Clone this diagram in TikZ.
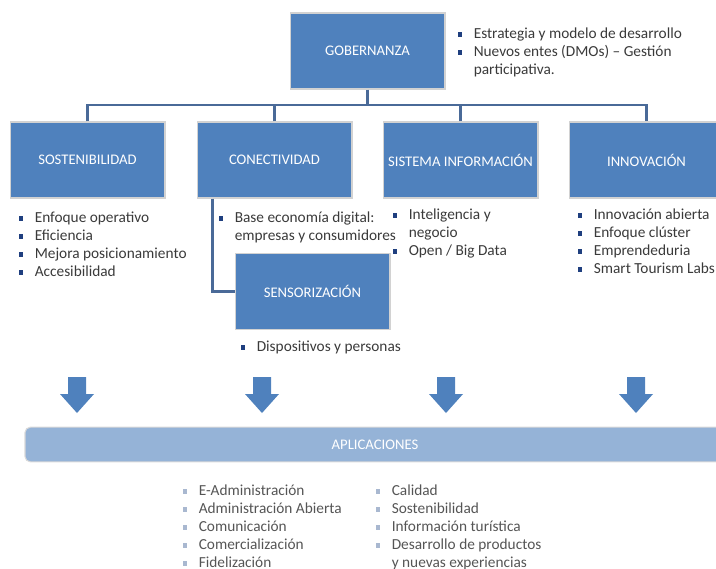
\documentclass[tikz,border=0pt]{standalone}
\usepackage{fontspec}
\setmainfont{Carlito}

\definecolor{azulcaja}{HTML}{4F81BD}
\definecolor{azullinea}{HTML}{4A6A98}
\definecolor{azulbarra}{HTML}{95B3D7}
\definecolor{vinazul}{HTML}{1F3F7F}
\definecolor{vinclara}{HTML}{A9B8D0}
\definecolor{textogris}{HTML}{3A3A3A}
\definecolor{textoclaro}{HTML}{555555}

\tikzset{
  caja/.style={draw=gray!35, line width=1pt, fill=azulcaja, text=white,
    minimum width=116pt, minimum height=57pt, inner sep=1pt,
    font=\fontsize{11}{13}\selectfont},
  linea/.style={draw=azullinea, line width=1.6pt},
  lista/.style={anchor=base west, inner sep=0pt, text=textogris,
    font=\fontsize{11.5}{13.5}\selectfont},
  barra/.style={draw=gray!30, line width=0.8pt, fill=azulbarra, text=white,
    rounded corners=4pt, minimum width=525pt, minimum height=26pt,
    font=\fontsize{11}{13}\selectfont}
}

% viñetas cuadradas
\newcommand{\vin}{\textcolor{vinazul}{\rule[0.9pt]{3.5pt}{3.5pt}}}
\newcommand{\vinc}{\textcolor{vinclara}{\rule[0.9pt]{3.5pt}{3.5pt}}}
\newcommand{\listado}[1]{\begin{tabular}[t]{@{}l@{\hspace{8.5pt}}l@{}}#1\end{tabular}}

\begin{document}
\begin{tikzpicture}[x=0.75pt, y=-0.75pt]
  \useasboundingbox (0,0) rectangle (716,568);

  % Cajas principales
  \node[caja] (gob) at (367.5,51) {GOBERNANZA};
  \node[caja] (sost) at (87.5,160) {SOSTENIBILIDAD};
  \node[caja] (con) at (274.5,160) {CONECTIVIDAD};
  \node[caja] (sis) at (460.5,160) {SISTEMA INFORMACIÓN};
  \node[caja] (inn) at (646.5,160) {INNOVACIÓN};
  \node[caja] (sens) at (312.5,291.5) {SENSORIZACIÓN};

  % Conexiones
  \coordinate (bus) at (367.5,105);
  \draw[linea] (gob.south) -- (bus);
  \draw[linea] (sost.north) |- (bus) -| (inn.north);
  \draw[linea] (con.north) -- (con.north |- bus);
  \draw[linea] (sis.north) -- (sis.north |- bus);
  \draw[linea] ([xshift=12pt]con.south west) |- (sens.west);

  % Listas de cada eje
  \node[lista] (lgob) at (457.5,38) {\listado{\vin & Estrategia y modelo de desarrollo\\
    \vin & Nuevos entes (DMOs) -- Gestión\\ & participativa.}};
  \node[lista] (lsost) at (18.5,222) {\listado{\vin & Enfoque operativo\\ \vin & Eficiencia\\
    \vin & Mejora posicionamiento\\ \vin & Accesibilidad}};
  \node[lista] (lcon) at (218.5,222) {\listado{\vin & Base economía digital:\\
    & empresas y consumidores}};
  \node[lista] (lsis) at (392.5,219) {\listado{\vin & Inteligencia y\\ & negocio\\
    \vin & Open / Big Data}};
  \node[lista] (linn) at (577.5,219) {\listado{\vin & Innovación abierta\\ \vin & Enfoque clúster\\
    \vin & Emprendeduria\\ \vin & Smart Tourism Labs}};
  \node[lista] (lsens) at (240.5,351) {\listado{\vin & Dispositivos y personas}};

  % Flechas hacia las aplicaciones
  \foreach \x in {77,262,446,636}
    \fill[azulcaja] (\x-9,377) -- (\x+9,377) -- (\x+9,394) -- (\x+17,394)
      -- (\x,413) -- (\x-17,394) -- (\x-9,394) -- cycle;

  \node[barra] (apl) at (375,444.5) {APLICACIONES};

  % Aplicaciones
  \node[lista, text=textoclaro] (lapl1) at (182.5,495) {\listado{\vinc & E-Administración\\
    \vinc & Administración Abierta\\ \vinc & Comunicación\\ \vinc & Comercialización\\
    \vinc & Fidelización}};
  \node[lista, text=textoclaro] (lapl2) at (375.5,495) {\listado{\vinc & Calidad\\
    \vinc & Sostenibilidad\\ \vinc & Información turística\\
    \vinc & Desarrollo de productos\\ & y nuevas experiencias}};
\end{tikzpicture}
\end{document}
